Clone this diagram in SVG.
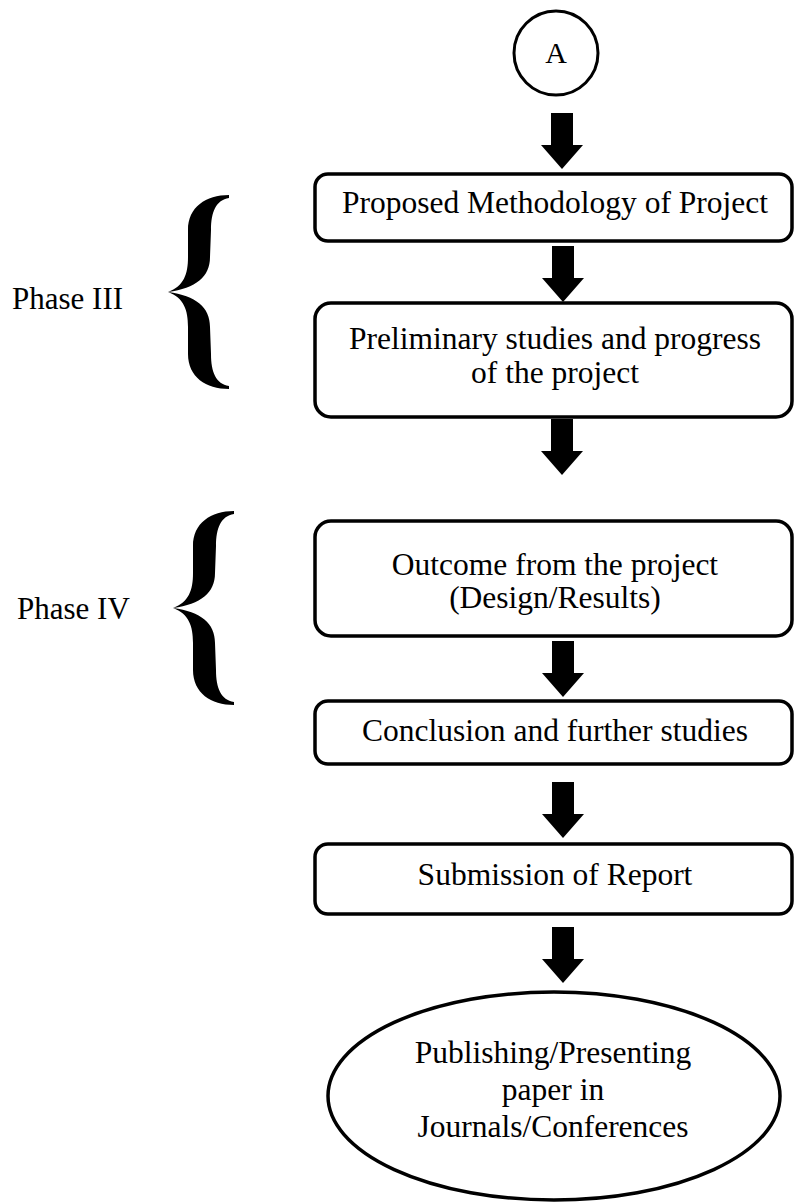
<svg xmlns="http://www.w3.org/2000/svg" width="795" height="1203" viewBox="0 0 795 1203">
  <style>
    .box { fill: #fff; stroke: #000; stroke-width: 3.5; }
    .lbl { font-family: "Liberation Serif", "Times New Roman", serif; font-size: 31.5px; fill: #000; text-anchor: middle; }
    .side { font-family: "Liberation Serif", "Times New Roman", serif; font-size: 31px; fill: #000; }
    .arrow { fill: #000; }
    .brace { fill: #000; }
  </style>
  <defs>
    <!-- block arrow, origin at the top centre of the shaft -->
    <path id="blockArrow" d="M -11,0 L 11,0 L 11,32 L 21,32 L 0,56 L -21,32 L -11,32 Z"/>
    <!-- curly brace, origin at the middle point -->
    <path id="curly" d="M 0,0 C 16,-6 20,-18 20,-35 L 20,-62 C 20,-85 38,-97 61,-97 L 61,-94 C 48,-92 43,-80 43,-62 L 42,-35 C 42,-15 28,-4 0,0 Z M 0,0 C 16,6 20,18 20,35 L 20,62 C 20,85 38,97 61,97 L 61,94 C 48,92 43,80 43,62 L 42,35 C 42,15 28,4 0,0 Z"/>
  </defs>
  <rect width="795" height="1203" fill="#fff"/>

  <g id="connector-a">
    <circle cx="556" cy="53" r="42" fill="#fff" stroke="#000" stroke-width="3"/>
    <text class="lbl" x="556" y="63" style="font-size:30px">A</text>
  </g>

  <g id="connectors" class="arrow">
    <use href="#blockArrow" x="562" y="113"/>
    <use href="#blockArrow" x="563" y="246"/>
    <use href="#blockArrow" x="562" y="419"/>
    <use href="#blockArrow" x="563" y="641"/>
    <use href="#blockArrow" x="563" y="782"/>
    <use href="#blockArrow" x="563" y="927"/>
  </g>

  <g id="methodology">
    <rect class="box" x="315" y="174" width="477" height="67" rx="13"/>
    <text class="lbl" x="555" y="213">Proposed Methodology of Project</text>
  </g>

  <g id="preliminary">
    <rect class="box" x="315" y="303" width="477" height="114" rx="16"/>
    <text class="lbl" x="555" y="349">Preliminary studies and progress</text>
    <text class="lbl" x="555" y="383">of the project</text>
  </g>

  <g id="outcome">
    <rect class="box" x="315" y="521" width="477" height="115" rx="16"/>
    <text class="lbl" x="555" y="575">Outcome from the project</text>
    <text class="lbl" x="555" y="608">(Design/Results)</text>
  </g>

  <g id="conclusion">
    <rect class="box" x="315" y="701" width="477" height="63" rx="13"/>
    <text class="lbl" x="555" y="741">Conclusion and further studies</text>
  </g>

  <g id="submission">
    <rect class="box" x="315" y="844" width="477" height="70" rx="13"/>
    <text class="lbl" x="555" y="885">Submission of Report</text>
  </g>

  <g id="publishing">
    <ellipse cx="554" cy="1096" rx="226" ry="104" fill="#fff" stroke="#000" stroke-width="3.5"/>
    <text class="lbl" x="553" y="1063">Publishing/Presenting</text>
    <text class="lbl" x="553" y="1100">paper in</text>
    <text class="lbl" x="553" y="1137">Journals/Conferences</text>
  </g>

  <g id="phase-3">
    <use class="brace" href="#curly" x="168" y="292"/>
    <text class="side" x="12" y="309">Phase III</text>
  </g>

  <g id="phase-4">
    <use class="brace" href="#curly" x="173" y="608"/>
    <text class="side" x="17" y="619">Phase IV</text>
  </g>
</svg>
